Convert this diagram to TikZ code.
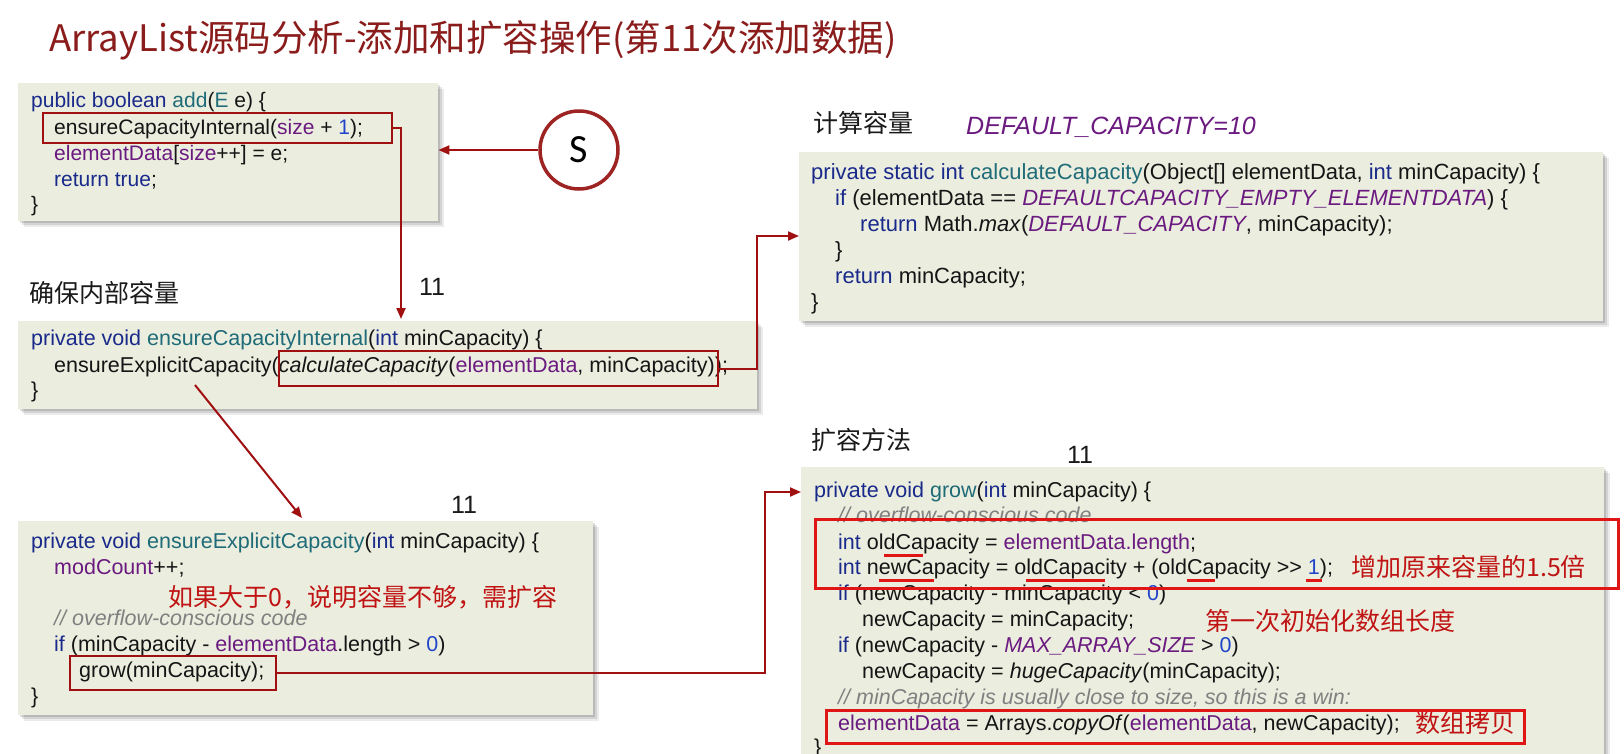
\documentclass[tikz,border=0pt]{standalone}
\usepackage{fontspec}
\setmainfont{Liberation Sans}
\newfontfamily\cjk{Noto Sans CJK SC}
\newfontfamily\sfnt{Carlito}
\usetikzlibrary{arrows.meta,shadows}
\definecolor{kw}{HTML}{1A2A8A}
\definecolor{fnc}{HTML}{1F6B78}
\definecolor{fld}{HTML}{6B1A80}
\definecolor{numc}{HTML}{2244C8}
\definecolor{cmt}{HTML}{808080}
\definecolor{txt}{HTML}{151515}
\definecolor{boxbg}{HTML}{EBEEDF}
\definecolor{dred}{HTML}{A01010}
\definecolor{bred}{HTML}{E01515}
\definecolor{titlec}{HTML}{8B1C1C}
\definecolor{notec}{HTML}{C01414}
\definecolor{lblc}{HTML}{1A1A1A}
\definecolor{circc}{HTML}{9E2424}
\newcommand\ckw[1]{\textcolor{kw}{#1}}
\newcommand\cfn[1]{\textcolor{fnc}{#1}}
\newcommand\cfld[1]{\textcolor{fld}{#1}}
\newcommand\cfldi[1]{\textcolor{fld}{\itshape #1}}
\newcommand\cnum[1]{\textcolor{numc}{#1}}
\newcommand\ccmt[1]{\textcolor{cmt}{\itshape #1}}
\newcommand\rul[2][0pt]{\setbox0=\hbox{#2}\rlap{\kern-#1\textcolor{bred}{\rule[-8pt]{\dimexpr\wd0+#1+#1\relax}{3.5pt}}}\box0}
\begin{document}
\begin{tikzpicture}[x=1pt,y=-1pt,
  codebox/.style={fill=boxbg, draw=none, inner sep=0pt, anchor=north west,
    drop shadow={shadow xshift=6pt, shadow yshift=-6pt, opacity=0.08, fill=black},
    drop shadow={shadow xshift=4pt, shadow yshift=-4pt, opacity=0.10, fill=black},
    drop shadow={shadow xshift=2pt, shadow yshift=-2pt, opacity=0.12, fill=black}},
  code/.style={anchor=base west, inner sep=0pt, font=\fontsize{21.5}{26}\selectfont, text=txt},
  codes/.style={code, font=\fontsize{21}{26}\selectfont},
  codel/.style={code, font=\fontsize{22}{26}\selectfont},
  lbl/.style={anchor=base west, inner sep=0pt, font=\cjk\fontsize{25}{30}\selectfont, text=lblc},
  eleven/.style={anchor=base, inner sep=0pt, font=\fontsize{25}{30}\selectfont, text=lblc},
  note/.style={anchor=base west, inner sep=0pt, font=\cjk\fontsize{25}{30}\selectfont, text=notec},
  hl/.style={draw=dred, line width=2pt, inner sep=0pt, anchor=north west},
  hlb/.style={draw=bred, line width=3pt, inner sep=0pt, anchor=north west},
  conn/.style={draw=dred, line width=2pt, -{Triangle[length=11pt,width=9pt]}}]
\useasboundingbox (0,0) rectangle (1624,753);
\clip (0,0) rectangle (1624,753);
\fill[white] (0,0) rectangle (1624,753);

% title
\node[anchor=base west, inner sep=0pt, font=\cjk\fontsize{36.5}{40}\selectfont, text=titlec] (title) at (49,51) {ArrayList源码分析-添加和扩容操作(第11次添加数据)};

% box 1: add
\node[codebox, minimum width=420.4, minimum height=138] (b1) at (17.6,83) {};
\node[codes] (b1l1) at (31,107) {\ckw{public boolean} \cfn{add}(\cfn{E} e) \{};
\node[codes] (b1l2) at (54,134) {ensureCapacityInternal(\cfld{size} + \cnum{1});};
\node[codes] (b1l3) at (54,160) {\cfld{elementData}[\cfld{size}++] = e;};
\node[codes] (b1l4) at (54,186) {\ckw{return true};};
\node[codes] (b1l5) at (31,211) {\}};
\node[hl, minimum width=349, minimum height=30] (r1) at (42,112) {};

% S circle
\node[circle, draw=circc, line width=3.5pt, fill=white, minimum size=78, inner sep=0pt, font=\sfnt\fontsize{40}{42}\selectfont] (s) at (579,150) {S};

% box 2: ensureCapacityInternal
\node[lbl] (lab2) at (29,302) {确保内部容量};
\node[eleven] (n2) at (432,295) {11};
\node[codebox, minimum width=739.4, minimum height=88] (b2) at (17.6,321) {};
\node[code] (b2l1) at (31,345) {\ckw{private void} \cfn{ensureCapacityInternal}(\ckw{int} minCapacity) \{};
\node[code] (b2l2) at (54,372) {ensureExplicitCapacity(\textit{calculateCapacity}(\cfld{elementData}, minCapacity));};
\node[code] (b2l3) at (31,397) {\}};
\node[hl, minimum width=439, minimum height=35] (r2) at (278,350) {};

% box 3: calculateCapacity
\node[lbl] (lab3) at (813,132) {计算容量};
\node[anchor=base west, inner sep=0pt, font=\fontsize{25}{28}\selectfont\itshape, text=fld] (dc) at (966,134) {DEFAULT\_CAPACITY=10};
\node[codebox, minimum width=804, minimum height=169] (b3) at (799,152) {};
\node[codel] (b3l1) at (811,179.5) {\ckw{private static int} \cfn{calculateCapacity}(Object[] elementData, \ckw{int} minCapacity) \{};
\node[codel] (b3l2) at (835,205) {\ckw{if} (elementData == \cfldi{DEFAULTCAPACITY\_EMPTY\_ELEMENTDATA}) \{};
\node[codel] (b3l3) at (860,231) {\ckw{return} Math.\textit{max}(\cfldi{DEFAULT\_CAPACITY}, minCapacity);};
\node[codel] (b3l4) at (835,257) {\}};
\node[codel] (b3l5) at (835,283.5) {\ckw{return} minCapacity;};
\node[codel] (b3l6) at (811,309) {\}};

% box 4: ensureExplicitCapacity
\node[eleven] (n4) at (464,513) {11};
\node[codebox, minimum width=575.4, minimum height=194] (b4) at (17.6,521) {};
\node[code] (b4l1) at (31,548) {\ckw{private void} \cfn{ensureExplicitCapacity}(\ckw{int} minCapacity) \{};
\node[code] (b4l2) at (54,574) {\cfld{modCount}++;};
\node[note] (note4) at (168,606) {如果大于0，说明容量不够，需扩容};
\node[code] (b4l3) at (54,625.5) {\ccmt{// overflow-conscious code}};
\node[code] (b4l4) at (54,651.5) {\ckw{if} (minCapacity - \cfld{elementData}.length > \cnum{0})};
\node[code] (b4l5) at (79,677.5) {grow(minCapacity);};
\node[code] (b4l6) at (31,703.5) {\}};
\node[hl, minimum width=206, minimum height=34] (r3) at (69,655) {};

% box 5: grow
\node[lbl] (lab5) at (811,449) {扩容方法};
\node[eleven] (n5) at (1080,463) {11};
\node[codebox, minimum width=803, minimum height=300] (b5) at (801,467) {};
\node[code] (b5l1) at (814,497) {\ckw{private void} \cfn{grow}(\ckw{int} minCapacity) \{};
\node[code] (b5l2) at (838,522) {\ccmt{// overflow-conscious code}};
\node[code] (b5l3) at (838,549) {\ckw{int} ol\rul{dCa}pacity = \cfld{elementData.length};};
\node[code] (b5l4) at (838,574) {\ckw{int} n\rul{ewCa}pacity = o\rul{ldCapac}ity + (old\rul{Ca}pacity >\kern0pt> \rul[2pt]{\cnum{1}});};
\node[note] (note5a) at (1351,576) {增加原来容量的1.5倍};
\node[code] (b5l5) at (838,600.5) {\ckw{if} (newCapacity - minCapacity < \cnum{0})};
\node[code] (b5l6) at (862,626) {newCapacity = minCapacity;};
\node[note] (note5b) at (1205,630) {第一次初始化数组长度};
\node[code] (b5l7) at (838,652) {\ckw{if} (newCapacity - \cfldi{MAX\_ARRAY\_SIZE} > \cnum{0})};
\node[code] (b5l8) at (862,678) {newCapacity = \textit{hugeCapacity}(minCapacity);};
\node[code] (b5l9) at (838,704) {\ccmt{// minCapacity is usually close to size, so this is a win:}};
\node[code] (b5l10) at (838,730) {\cfld{elementData} = Arrays.\textit{copyOf}(\cfld{elementData}, newCapacity);};
\node[note] (note5c) at (1415,732) {数组拷贝};
\node[code] (b5l11) at (814,754) {\}};
\node[hlb, minimum width=803, minimum height=69] (ra) at (814,518) {};
\node[hlb, minimum width=698, minimum height=33] (rb) at (825,709) {};

% connectors
\coordinate (k1) at (401,319);
\draw[conn] (r1.east) -| (k1);
\draw[conn] (s.west) -- (s.west -| b1.east);
\coordinate (d0) at (195,385);
\coordinate (d1) at (302,518);
\draw[conn] (d0) -- (d1);
\coordinate (k2) at (757,236);
\draw[conn] (r2.east) -| (k2) -- (b3.west |- k2);
\coordinate (k3) at (764.5,492);
\draw[conn] (r3.east) -| (k3) -- (b5.west |- k3);
\end{tikzpicture}
\end{document}
